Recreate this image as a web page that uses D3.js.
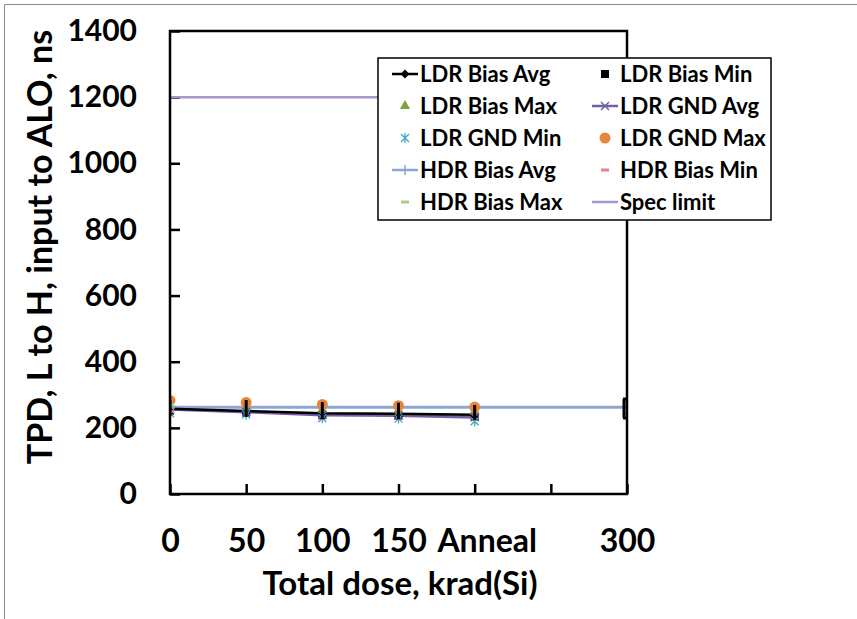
<!DOCTYPE html>
<html><head><meta charset="utf-8">
<script src="https://cdn.jsdelivr.net/npm/d3@7"></script>
<style>body{margin:0;background:#fff}svg{display:block}text{font-family:Lato,"Open Sans",sans-serif;font-weight:bold}</style>
</head><body>
<svg id="c" width="857" height="619"></svg>
<script>
const categories = ["0","50","100","150","Anneal","","300"];
const ldrBiasAvg = [258, 251, 244, 243, 240, null, null];
const ldrBiasMin = [252, 246, 238, 237, 234, null, null];
const ldrBiasMax = [266, 262, 255, 253, 250, null, null];
const ldrGndAvg  = [256, 248, 239, 237, 232, null, null];
const ldrGndMin  = [244, 240, 229, 228, 220, null, null];
const ldrGndMax  = [283, 277, 271, 267, 263, null, null];
const hdrBiasAvg = [262, null, null, null, null, null, 262];
const hdrBiasMin = [249, null, null, null, null, null, 244];
const hdrBiasMax = [270, null, null, null, null, null, 275];
const specLimit  = [1200, 1200, 1200, 1200, 1200, 1200, 1200];
const errHigh    = [286, 284, 278, 276, 269, null, 287];
const errLow     = [236, 233, 226, 226, 224, null, 230];
const yTicks = [0, 200, 400, 600, 800, 1000, 1200, 1400];

const svg = d3.select("#c");
const L = 170, R = 627, T = 31, B = 494;
const x = d3.scalePoint().domain(categories).range([L, R]);
const y = d3.scaleLinear().domain([0, 1400]).range([B, T]);

svg.append("path").attr("d","M4.5,619V4.5H857").attr("fill","none").attr("stroke","#8c8c8c").attr("stroke-width",1);

svg.append("defs").append("clipPath").attr("id","clip")
  .append("rect").attr("x",L).attr("y",T).attr("width",R-L).attr("height",B-T);

const yAxis = svg.append("g").attr("transform",`translate(${L},0)`)
  .call(d3.axisLeft(y).tickValues(yTicks).tickFormat(d3.format("d")).tickSizeInner(-10).tickSizeOuter(0).tickPadding(33));
yAxis.select(".domain").remove();
yAxis.selectAll("line").attr("stroke","#000").attr("stroke-width",2.5);
yAxis.selectAll("text").attr("font-size",30).attr("fill","#000");

const xAxis = svg.append("g").attr("transform",`translate(0,${B})`)
  .call(d3.axisBottom(x).tickSizeInner(-10).tickSizeOuter(0).tickPadding(35));
xAxis.select(".domain").remove();
xAxis.selectAll("line").attr("stroke","#000").attr("stroke-width",2.5);
xAxis.selectAll("text").attr("font-size",32).attr("fill","#000")
  .attr("dx", d => d === "Anneal" ? 12 : 0);

const idx = categories.map((c,i)=>i);
const px = i => x(categories[i]);
const plot = svg.append("g").attr("clip-path","url(#clip)");

function line(vals, color, w){
  const pts = idx.filter(i=>vals[i]!=null);
  plot.append("path").datum(pts)
    .attr("d", d3.line().x(i=>px(i)).y(i=>y(vals[i])))
    .attr("fill","none").attr("stroke",color).attr("stroke-width",w);
}
function sym(type, size){ return d3.symbol().type(type).size(size)(); }
function markers(vals, draw){
  idx.filter(i=>vals[i]!=null).forEach(i=>{
    const g = plot.append("g").attr("transform",`translate(${px(i)},${y(vals[i])})`);
    draw(g);
  });
}
const C = {blk:"#000", green:"#7aa33e", purple:"#7360a3", teal:"#3fa9c4", orange:"#e5873a",
  hblue:"#8ca7d3", hred:"#e0828a", hgreen:"#a9cc8a", spec:"#a996c8"};

const draws = {
  diamond: g=>g.append("path").attr("d",sym(d3.symbolDiamond2,50)).attr("fill",C.blk),
  square: g=>g.append("rect").attr("x",-4).attr("y",-4).attr("width",8).attr("height",8).attr("fill",C.blk),
  tri: g=>g.append("path").attr("d",sym(d3.symbolTriangle,45)).attr("fill",C.green),
  xm: g=>g.append("path").attr("d","M-4,-4L4,4M-4,4L4,-4").attr("stroke",C.purple).attr("stroke-width",1.5),
  ast: g=>g.append("path").attr("d","M-4,-4L4,4M-4,4L4,-4M0,-5V5").attr("stroke",C.teal).attr("stroke-width",1.3),
  circ: g=>g.append("circle").attr("r",5.5).attr("fill",C.orange),
  plus: g=>g.append("path").attr("d","M-5,0H5M0,-5V5").attr("stroke",C.hblue).attr("stroke-width",1.5),
  dashR: g=>g.append("rect").attr("x",-4).attr("y",-1.5).attr("width",8).attr("height",3).attr("fill",C.hred),
  dashG: g=>g.append("rect").attr("x",-4).attr("y",-1.5).attr("width",8).attr("height",3).attr("fill",C.hgreen)
};

line(specLimit, C.spec, 2.5);
line(hdrBiasAvg, C.hblue, 3);
line(ldrGndAvg, C.purple, 3);
line(ldrBiasAvg, C.blk, 2.5);

markers(ldrBiasAvg, draws.diamond);
markers(ldrBiasMin, draws.square);
markers(ldrBiasMax, draws.tri);
markers(ldrGndAvg, draws.xm);
markers(ldrGndMin, draws.ast);
markers(ldrGndMax, draws.circ);
markers(hdrBiasAvg, draws.plus);
markers(hdrBiasMin, draws.dashR);
markers(hdrBiasMax, draws.dashG);

idx.filter(i=>errHigh[i]!=null).forEach(i=>{
  const cx = px(i), cap = (i===categories.length-1);
  const xx = cx - (cap?3:0);
  plot.append("path")
    .attr("d", `M${xx},${y(errHigh[i])}V${y(errLow[i])}` + (cap?`M${xx-1},${y(errHigh[i])}H${xx+6}M${xx-1},${y(errLow[i])}H${xx+6}`:""))
    .attr("stroke","#000").attr("stroke-width",3).attr("fill","none");
});

svg.append("rect").attr("x",L).attr("y",T).attr("width",R-L).attr("height",B-T)
  .attr("fill","none").attr("stroke","#000").attr("stroke-width",2.5);

svg.append("text").attr("x",400).attr("y",595).attr("text-anchor","middle").attr("font-size",33).text("Total dose, krad(Si)");
svg.append("text").attr("transform","translate(52,247) rotate(-90)").attr("text-anchor","middle").attr("font-size",34).text("TPD, L to H, input to ALO, ns");

const lg = svg.append("g");
lg.append("rect").attr("x",378).attr("y",58).attr("width",393).attr("height",162)
  .attr("fill","#fff").attr("stroke","#000").attr("stroke-width",1.5);
const legendItems = [
  {name:"LDR Bias Avg", line:C.blk, m:draws.diamond},
  {name:"LDR Bias Min", m:draws.square},
  {name:"LDR Bias Max", m:draws.tri},
  {name:"LDR GND Avg", line:C.purple, m:draws.xm},
  {name:"LDR GND Min", m:draws.ast},
  {name:"LDR GND Max", m:draws.circ},
  {name:"HDR Bias Avg", line:C.hblue, m:draws.plus},
  {name:"HDR Bias Min", m:draws.dashR},
  {name:"HDR Bias Max", m:draws.dashG},
  {name:"Spec limit", line:C.spec}
];
legendItems.forEach((d,i)=>{
  const col = i%2, row = Math.floor(i/2);
  const sx = col ? 605 : 405, ty = 74 + row*32;
  const g = lg.append("g").attr("transform",`translate(${sx},${ty})`);
  if(d.line) g.append("line").attr("x1",-13).attr("x2",13).attr("stroke",d.line).attr("stroke-width",2.5);
  if(d.m) d.m(g.append("g"));
  lg.append("text").attr("x",sx+15).attr("y",ty).attr("dy","0.35em").attr("font-size",22).text(d.name);
});
</script>
</body></html>
